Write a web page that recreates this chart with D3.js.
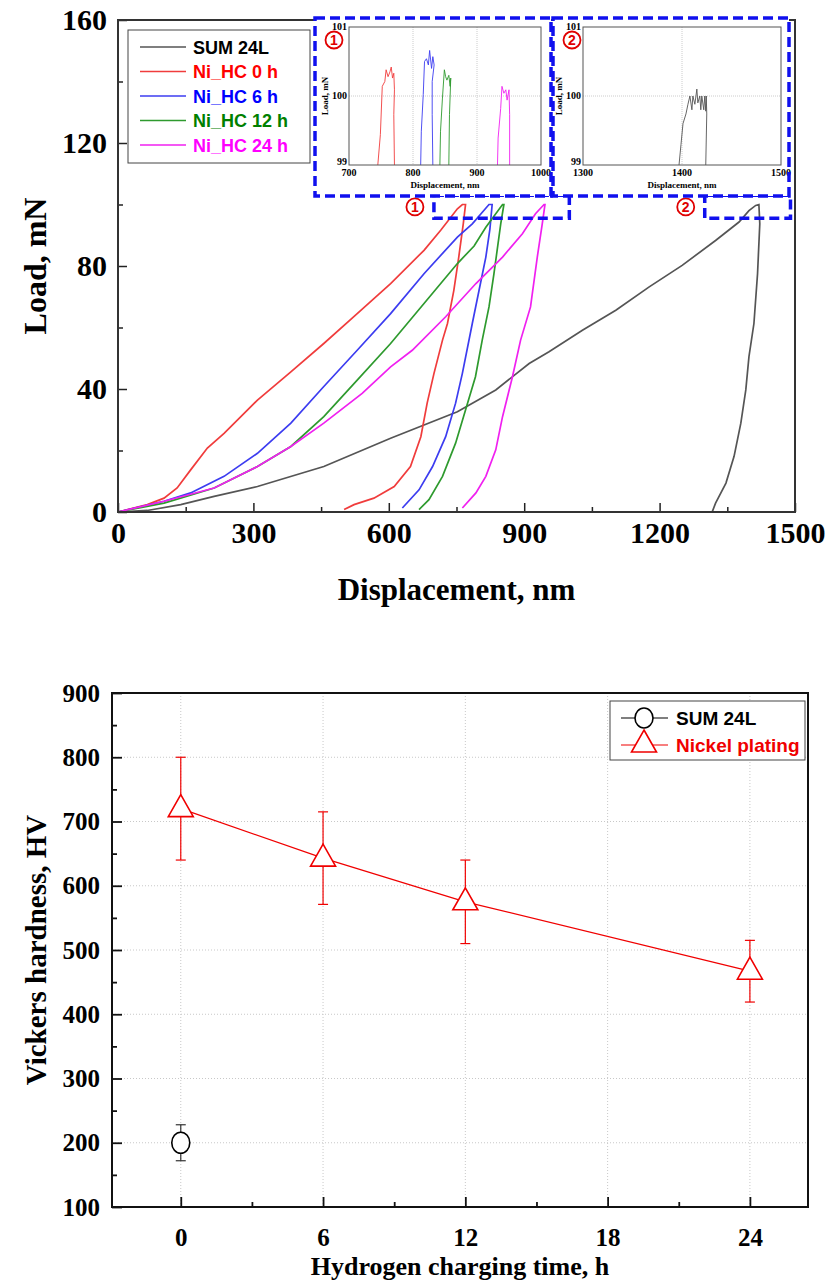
<!DOCTYPE html>
<html>
<head>
<meta charset="utf-8">
<script src="https://cdn.jsdelivr.net/npm/d3@7"></script>
<style>
body { margin: 0; background: #fff; }
text { font-family: "Liberation Serif", "Times New Roman", serif; font-weight: bold; }
.sans { font-family: "Liberation Sans", Arial, sans-serif; font-weight: bold; }
</style>
</head>
<body>
<script>
// load-displacement curves, [displacement nm, load mN], loading then unloading
var sum24L = [[0,0],[65,0.5],[139,2.4],[213,5.1],[309,8.3],[456,14.8],[604,24],[752,32.6],[837,39.7],[911,48.3],[955,52.1],[1029,59.1],[1103,65.6],[1177,73.2],[1250,80.2],[1324,88.3],[1376,94.3],[1398,98],[1413,99.7],[1420,100],[1422,93.7],[1417,77.5],[1409,61.3],[1398,50.5],[1391,39.7],[1380,28.9],[1365,18.1],[1347,9.4],[1324,2.9],[1317,0.2]]
var niHC0 = [[0,0],[65,2.4],[102,4.5],[131,7.8],[161,13.7],[198,20.8],[235,25.6],[309,36.4],[383,45.6],[456,54.8],[530,64.5],[604,74.3],[678,85.1],[715,91.6],[752,98.6],[763,100],[770,100],[765,93.7],[755,82.9],[744,72],[730,61.3],[719,55.9],[700,45],[685,35.4],[671,24.5],[648,14.8],[612,8.3],[567,4.5],[523,2.4],[501,0.8]]
var niHC6 = [[0,0],[102,3.5],[161,6.2],[235,11.6],[309,19.1],[383,28.9],[456,40.8],[530,52.6],[604,64.5],[678,77.5],[752,89.4],[785,93.7],[822,100],[829,100],[824,92],[815,82.9],[800,72.1],[785,61.3],[763,45.1],[748,35.4],[726,24.5],[697,14.8],[667,7.2],[630,1.3]]
var niHC12 = [[0,0],[102,2.9],[213,7.8],[309,14.8],[383,21.3],[456,31],[530,42.9],[604,54.8],[678,67.8],[752,80.8],[789,86.5],[815,92.6],[852,100],[855,100],[848,93.7],[833,77.5],[822,66.7],[807,55.9],[792,44],[770,33.2],[748,22.4],[719,11.6],[689,4],[667,0.8]]
var niHC24 = [[0,0],[102,3.5],[213,7.8],[309,14.8],[383,21.3],[456,28.9],[541,38.6],[604,47.2],[652,52.6],[726,63.5],[793,74.3],[852,82.9],[896,90.5],[925,97],[944,100],[946,100],[940,93.7],[929,82.9],[914,66.7],[892,55.9],[874,44],[852,31],[837,20.2],[815,11.6],[793,6.2],[763,1.3]]

// zoomed peaks for the insets
var zoomHC0 = [[745,99],[749,99.44],[752,100.14],[756,100.21],[758,100.38],[761,100.28],[764,100.35],[766,100.42],[768,100.26],[770,100.33],[771,100.09],[770,99.73],[771,99]]
var zoomHC6 = [[812,99],[813,99.49],[816,100.02],[818,100.5],[821,100.54],[824,100.45],[826,100.66],[829,100.4],[831,100.57],[833,100.45],[830,100.21],[830,99.73],[831,99]]
var zoomHC12 = [[842,99],[843,99.49],[846,99.97],[849,100.38],[851,100.28],[853,100.23],[856,100.3],[858,100.14],[859,100.26],[857,99.73],[856,99]]
var zoomHC24 = [[932,99],[933,99.39],[937,99.82],[939,100.14],[942,100.04],[945,100.09],[947,99.94],[950,100.09],[951,99.73],[951,99]]
var zoomSUM = [[1397,99],[1399,99.3],[1401,99.6],[1404,99.74],[1406,99.88],[1408,100],[1410,99.8],[1411,100],[1413,99.88],[1415,100.1],[1416,99.9],[1418,100],[1419,99.8],[1420,100],[1422,99.8],[1423,100],[1424,99.78],[1424.5,100],[1425,99.74],[1424,99]]

var seriesNames = ["SUM 24L", "Ni_HC 0 h", "Ni_HC 6 h", "Ni_HC 12 h", "Ni_HC 24 h"]
var lineColors = ["#555555", "#f03c3c", "#3c3cf0", "#2e9a2e", "#f020f0"]
var textColors = ["#000000", "#ff0000", "#0000ff", "#008000", "#ff00ff"]
var loadTicks = [0, 40, 80, 120, 160]
var dispTicks = [0, 300, 600, 900, 1200, 1500]

// hardness data
var hours = [0, 6, 12, 24]
var nickelHV = [720, 643, 575, 467]
var nickelErr = [80, 72, 65, 48]
var sumHours = [0]
var sumHV = [200]
var sumErr = [28]
var hourTicks = [0, 6, 12, 18, 24]
var hvTicks = [100, 200, 300, 400, 500, 600, 700, 800, 900]

var svg = d3.select("body").append("svg")
  .attr("width", 830)
  .attr("height", 1283)

// ---------- top chart ----------
var x = d3.scaleLinear().domain([0, 1500]).range([118, 795])
var y = d3.scaleLinear().domain([0, 160]).range([512, 20])

var topG = svg.append("g")

topG.append("g")
  .attr("transform", "translate(0,512)")
  .call(d3.axisBottom(x).tickValues(d3.range(150, 1500, 300)).tickSize(-5).tickFormat(""))
topG.append("g")
  .attr("transform", "translate(0,512)")
  .call(d3.axisBottom(x).tickValues(dispTicks).tickSize(-9).tickPadding(10).tickFormat(d3.format("d")))
topG.append("g")
  .attr("transform", "translate(118,0)")
  .call(d3.axisLeft(y).tickValues(d3.range(20, 160, 40)).tickSize(-5).tickFormat(""))
topG.append("g")
  .attr("transform", "translate(118,0)")
  .call(d3.axisLeft(y).tickValues(loadTicks).tickSize(-9).tickPadding(11).tickFormat(d3.format("d")))

topG.selectAll(".domain").remove()
topG.selectAll(".tick line").attr("stroke", "#222").attr("stroke-width", 1.5)
topG.selectAll(".tick text")
  .attr("font-size", 30)
  .attr("font-family", "Liberation Serif")
  .attr("font-weight", "bold")
  .attr("fill", "#000")

var line = d3.line()
  .x(function(d){ return x(d[0]) })
  .y(function(d){ return y(d[1]) })

var curves = [sum24L, niHC0, niHC6, niHC12, niHC24]
topG.selectAll("path.curve")
  .data(curves)
  .enter()
  .append("path")
  .classed("curve", true)
  .attr("d", line)
  .attr("fill", "none")
  .attr("stroke", function(d, i){ return lineColors[i] })
  .attr("stroke-width", 1.7)

topG.append("rect")
  .attr("x", 118).attr("y", 20)
  .attr("width", 677).attr("height", 492)
  .attr("fill", "none")
  .attr("stroke", "#333")
  .attr("stroke-width", 2)

topG.append("text")
  .attr("x", x(750)).attr("y", 600)
  .attr("text-anchor", "middle")
  .attr("font-size", 31)
  .text("Displacement, nm")

topG.append("text")
  .attr("transform", "translate(46," + y(80) + ") rotate(-90)")
  .attr("text-anchor", "middle")
  .attr("font-size", 32)
  .text("Load, mN")

// legend
var leg = topG.append("g")
leg.append("rect")
  .attr("x", 128).attr("y", 30)
  .attr("width", 182).attr("height", 133)
  .attr("fill", "#fff")
  .attr("stroke", "#444")
  .attr("stroke-width", 1)
var legItem = leg.selectAll("g.item")
  .data(seriesNames)
  .enter()
  .append("g")
  .attr("transform", function(d, i){ return "translate(0," + (47 + i * 24.5) + ")" })
legItem.append("line")
  .attr("x1", 140).attr("x2", 186)
  .attr("stroke", function(d, i){ return lineColors[i] })
  .attr("stroke-width", 1.6)
legItem.append("text")
  .classed("sans", true)
  .attr("x", 193).attr("y", 6.5)
  .attr("font-size", 18)
  .attr("fill", function(d, i){ return textColors[i] })
  .text(function(d){ return d })

// zoom boxes on the main plot
var zoomSpans = [[700, 1000], [1300, 1490]]
var zoomLoad = [95.5, 103]
var circledNums = ["1", "2"]

function circled(g, cx, cy, label) {
  g.append("circle")
    .attr("cx", cx).attr("cy", cy).attr("r", 8.5)
    .attr("fill", "#fff")
    .attr("stroke", "#e00000")
    .attr("stroke-width", 1.8)
  g.append("text")
    .classed("sans", true)
    .attr("x", cx).attr("y", cy + 5)
    .attr("text-anchor", "middle")
    .attr("font-size", 14)
    .attr("fill", "#e00000")
    .text(label)
}

zoomSpans.forEach(function(s, i){
  topG.append("rect")
    .attr("x", x(s[0])).attr("y", y(zoomLoad[1]))
    .attr("width", x(s[1]) - x(s[0]))
    .attr("height", y(zoomLoad[0]) - y(zoomLoad[1]))
    .attr("fill", "none")
    .attr("stroke", "#1010ee")
    .attr("stroke-width", 3.5)
    .attr("stroke-dasharray", "10,5")
  circled(topG, x(s[0]) - 19, y(99.2), circledNums[i])
})

// ---------- insets ----------
function inset(box, frame, xDomain, xTicks, series, colors, label) {
  var g = svg.append("g")
  g.append("rect")
    .attr("x", box[0]).attr("y", box[1])
    .attr("width", box[2] - box[0]).attr("height", box[3] - box[1])
    .attr("fill", "#fff")

  var ix = d3.scaleLinear().domain(xDomain).range([frame[0], frame[2]])
  var iy = d3.scaleLinear().domain([99, 101]).range([frame[3], frame[1]])

  // grid
  g.selectAll("line.gx")
    .data(xTicks.slice(1, -1))
    .enter().append("line")
    .attr("x1", ix).attr("x2", ix)
    .attr("y1", frame[1]).attr("y2", frame[3])
    .attr("stroke", "#ccc").attr("stroke-dasharray", "1,1")
  g.append("line")
    .attr("x1", frame[0]).attr("x2", frame[2])
    .attr("y1", iy(100)).attr("y2", iy(100))
    .attr("stroke", "#ccc").attr("stroke-dasharray", "1,1")

  var l = d3.line()
    .x(function(d){ return ix(d[0]) })
    .y(function(d){ return iy(d[1]) })
  g.selectAll("path.zc")
    .data(series)
    .enter().append("path")
    .attr("d", l)
    .attr("fill", "none")
    .attr("stroke", function(d, i){ return colors[i] })
    .attr("stroke-width", 0.9)

  g.append("rect")
    .attr("x", frame[0]).attr("y", frame[1])
    .attr("width", frame[2] - frame[0]).attr("height", frame[3] - frame[1])
    .attr("fill", "none")
    .attr("stroke", "#555")
    .attr("stroke-width", 1)

  g.selectAll("text.xt")
    .data(xTicks)
    .enter().append("text")
    .attr("x", ix).attr("y", frame[3] + 11)
    .attr("text-anchor", "middle")
    .attr("font-size", 10)
    .text(function(d){ return d })
  g.selectAll("text.yt")
    .data([99, 100, 101])
    .enter().append("text")
    .attr("x", frame[0] - 2).attr("y", function(d){ return iy(d) + (d === 99 ? 0 : 3) })
    .attr("text-anchor", "end")
    .attr("font-size", 10)
    .text(function(d){ return d })

  g.append("text")
    .attr("x", (frame[0] + frame[2]) / 2).attr("y", frame[3] + 23)
    .attr("text-anchor", "middle")
    .attr("font-size", 9)
    .text("Displacement, nm")
  g.append("text")
    .attr("transform", "translate(" + (frame[0] - 21) + "," + ((frame[1] + frame[3]) / 2) + ") rotate(-90)")
    .attr("text-anchor", "middle")
    .attr("font-size", 9)
    .text("Load, mN")

  g.append("rect")
    .attr("x", box[0]).attr("y", box[1])
    .attr("width", box[2] - box[0]).attr("height", box[3] - box[1])
    .attr("fill", "none")
    .attr("stroke", "#1010ee")
    .attr("stroke-width", 3.5)
    .attr("stroke-dasharray", "10,5")

  circled(g, box[0] + 19, box[1] + 22, label)
}

inset([315, 18, 551, 196], [349, 27, 541, 165], [700, 1000], [700, 800, 900, 1000],
  [zoomHC0, zoomHC6, zoomHC12, zoomHC24], lineColors.slice(1), "1")
inset([553, 18, 789, 196], [583, 27, 781, 165], [1300, 1500], [1300, 1400, 1500],
  [zoomSUM], [lineColors[0]], "2")

// ---------- bottom chart ----------
var bx = d3.scaleLinear().domain([-2.9, 26.45]).range([112, 808])
var by = d3.scaleLinear().domain([100, 900]).range([1207, 693])

var bot = svg.append("g")

// grid
bot.selectAll("line.gx")
  .data(hourTicks)
  .enter().append("line")
  .attr("x1", bx).attr("x2", bx)
  .attr("y1", 693).attr("y2", 1207)
  .attr("stroke", "#c8c8c8").attr("stroke-dasharray", "1,2")
bot.selectAll("line.gy")
  .data(hvTicks)
  .enter().append("line")
  .attr("x1", 112).attr("x2", 808)
  .attr("y1", by).attr("y2", by)
  .attr("stroke", "#c8c8c8").attr("stroke-dasharray", "1,2")

bot.append("g")
  .attr("transform", "translate(0,1207)")
  .call(d3.axisBottom(bx).tickValues(d3.range(3, 25, 6)).tickSize(-5).tickFormat(""))
bot.append("g")
  .attr("transform", "translate(0,1207)")
  .call(d3.axisBottom(bx).tickValues(hourTicks).tickSize(-10).tickPadding(21).tickFormat(d3.format("d")))
bot.append("g")
  .attr("transform", "translate(112,0)")
  .call(d3.axisLeft(by).tickValues(d3.range(150, 900, 100)).tickSize(-5).tickFormat(""))
bot.append("g")
  .attr("transform", "translate(112,0)")
  .call(d3.axisLeft(by).tickValues(hvTicks).tickSize(-10).tickPadding(12).tickFormat(d3.format("d")))

bot.selectAll(".domain").remove()
bot.selectAll(".tick line").attr("stroke", "#111").attr("stroke-width", 1.8)
bot.selectAll(".tick text")
  .attr("font-size", 25)
  .attr("font-family", "Liberation Serif")
  .attr("font-weight", "bold")
  .attr("fill", "#000")

bot.append("rect")
  .attr("x", 112).attr("y", 693)
  .attr("width", 696).attr("height", 514)
  .attr("fill", "none")
  .attr("stroke", "#111")
  .attr("stroke-width", 2)

bot.append("text")
  .attr("x", 460).attr("y", 1275)
  .attr("text-anchor", "middle")
  .attr("font-size", 26)
  .text("Hydrogen charging time, h")
bot.append("text")
  .attr("transform", "translate(46," + by(500) + ") rotate(-90)")
  .attr("text-anchor", "middle")
  .attr("font-size", 29)
  .text("Vickers hardness, HV")

var red = "#f00000"

// nickel line
var nickelPts = hours.map(function(h, i){ return [h, nickelHV[i]] })
bot.append("path")
  .attr("d", d3.line().x(function(d){ return bx(d[0]) }).y(function(d){ return by(d[1]) })(nickelPts))
  .attr("fill", "none")
  .attr("stroke", red)
  .attr("stroke-width", 1.2)

function errorBars(xs, vals, errs, color) {
  xs.forEach(function(h, i){
    var cx = bx(h)
    bot.append("line")
      .attr("x1", cx).attr("x2", cx)
      .attr("y1", by(vals[i] + errs[i])).attr("y2", by(vals[i] - errs[i]))
      .attr("stroke", color).attr("stroke-width", 1.2)
    ;[vals[i] + errs[i], vals[i] - errs[i]].forEach(function(v){
      bot.append("line")
        .attr("x1", cx - 5).attr("x2", cx + 5)
        .attr("y1", by(v)).attr("y2", by(v))
        .attr("stroke", color).attr("stroke-width", 1.2)
    })
  })
}
errorBars(hours, nickelHV, nickelErr, red)
errorBars(sumHours, sumHV, sumErr, "#333")

function triPath(cx, cy) {
  return "M" + cx + "," + (cy - 14) + "L" + (cx + 12.5) + "," + (cy + 8) + "L" + (cx - 12.5) + "," + (cy + 8) + "Z"
}

bot.selectAll("path.tri")
  .data(hours)
  .enter().append("path")
  .attr("d", function(h, i){ return triPath(bx(h), by(nickelHV[i])) })
  .attr("fill", "#fff")
  .attr("stroke", red)
  .attr("stroke-width", 1.6)

bot.selectAll("ellipse.circ")
  .data(sumHours)
  .enter().append("ellipse")
  .attr("cx", function(h){ return bx(h) })
  .attr("cy", function(h, i){ return by(sumHV[i]) })
  .attr("rx", 9).attr("ry", 10.5)
  .attr("fill", "#fff")
  .attr("stroke", "#000")
  .attr("stroke-width", 1.6)

// legend
var bleg = bot.append("g")
bleg.append("rect")
  .attr("x", 610).attr("y", 701)
  .attr("width", 195).attr("height", 59)
  .attr("fill", "#fff")
  .attr("stroke", "#444")
  .attr("stroke-width", 1)
var legLabels = ["SUM 24L", "Nickel plating"]
var legColors = ["#000", red]
legLabels.forEach(function(name, i){
  var cy = 718 + i * 27
  bleg.append("line")
    .attr("x1", 621).attr("x2", 668)
    .attr("y1", cy).attr("y2", cy)
    .attr("stroke", legColors[i]).attr("stroke-width", 1.2)
  if (i === 0) {
    bleg.append("ellipse")
      .attr("cx", 644).attr("cy", cy).attr("rx", 9).attr("ry", 10)
      .attr("fill", "#fff").attr("stroke", "#000").attr("stroke-width", 1.6)
  } else {
    bleg.append("path")
      .attr("d", triPath(644, cy - 1))
      .attr("fill", "#fff").attr("stroke", red).attr("stroke-width", 1.6)
  }
  bleg.append("text")
    .classed("sans", true)
    .attr("x", 676).attr("y", cy + 7)
    .attr("font-size", 19)
    .attr("fill", legColors[i])
    .text(name)
})
</script>
</body>
</html>
